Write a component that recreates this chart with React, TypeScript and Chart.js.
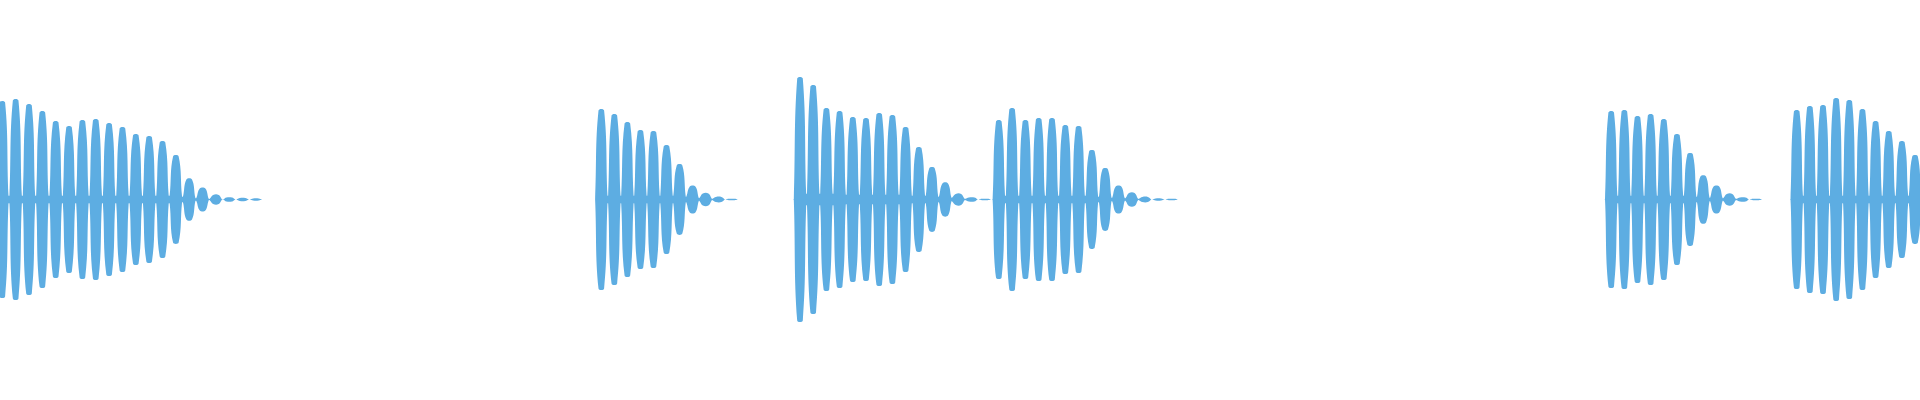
import React, { useEffect, useRef } from 'react';
import { Chart, registerables } from 'chart.js';

Chart.register(...registerables);

// Audio waveform: six bursts of decaying tone pulses.
// Time axis in ms, amplitude in % of full scale.
const burstStarts = [2.3, 601.3, 800, 998.8, 1611.2, 1796.7]; // centre of the first pulse
const burstPeriods = [13.35, 13.04, 13.2, 13.3, 13.15, 13.15]; // pulse spacing

// peak amplitude of every pulse
const burst1Peaks = [48.5, 49.5, 47, 43.5, 38.5, 36, 39, 39.5, 37.5, 35.5, 32, 31, 28.5, 21.5, 10, 5.5, 2.25, 1, 0.75, 0.5];
const burst2Peaks = [44.5, 42, 38, 34, 33.5, 26.5, 17, 6.5, 3, 1.25, 0.35];
const burst3Peaks = [60.5, 56.5, 45, 43.5, 40.5, 40, 42.5, 41.5, 35.5, 25.5, 15.5, 8, 2.75, 1, 0.35];
const burst4Peaks = [39, 45, 39, 40, 40, 36.5, 36, 24, 15, 6.5, 3.25, 1.25, 0.5, 0.35];
const burst5Peaks = [43.5, 44, 41, 42, 39.5, 32, 22.5, 11.5, 6.5, 2.75, 1, 0.35];
const burst6Peaks = [44, 46, 46.5, 50, 49, 44.5, 38.5, 33.5, 28.5, 21.5];

// residual amplitude between consecutive pulses
const burst1Gaps = [2, 2, 2, 2, 2, 2, 2, 2, 2, 2, 2, 2, 2, 1.5, 0.75, 0.35, 0, 0, 0];
const burst2Gaps = [2, 2, 2, 2, 2, 2, 1.5, 0.75, 0.35, 0];
const burst3Gaps = [3, 3, 3, 2.5, 2.5, 2.5, 2.5, 2.5, 2, 2, 1.5, 1, 0.35, 0];
const burst4Gaps = [2, 2, 2, 2, 2, 2, 2, 1.5, 1, 0.75, 0.35, 0, 0];
const burst5Gaps = [2, 2, 2, 2, 2, 2, 1.5, 1, 0.75, 0.35, 0];
const burst6Gaps = [2, 2, 2, 2, 2, 2, 2, 2, 2];

const burstPeaks = [burst1Peaks, burst2Peaks, burst3Peaks, burst4Peaks, burst5Peaks, burst6Peaks];
const burstGaps = [burst1Gaps, burst2Gaps, burst3Gaps, burst4Gaps, burst5Gaps, burst6Gaps];

const WAVE_COLOR = '#5DADE2';
const CREST_HALF = 2.8; // half width of a pulse crest (ms)
const EDGE_HALF = 6.2; // half width of a pulse at its foot (ms)

type Pt = { x: number; y: number };

function envelope(start: number, period: number, peaks: number[], gaps: number[]): Pt[] {
  const pts: Pt[] = [{ x: start - period + EDGE_HALF, y: 0 }];
  peaks.forEach((a, i) => {
    const c = start + i * period;
    pts.push({ x: c - EDGE_HALF, y: i === 0 ? 0 : gaps[i - 1] });
    pts.push({ x: c - CREST_HALF, y: a });
    pts.push({ x: c + CREST_HALF, y: a });
    pts.push({ x: c + EDGE_HALF, y: i < gaps.length ? gaps[i] : 0 });
  });
  pts.push({ x: start + peaks.length * period - EDGE_HALF, y: 0 });
  return pts;
}

const App: React.FC = () => {
  const canvasRef = useRef<HTMLCanvasElement>(null);

  useEffect(() => {
    if (!canvasRef.current) return;

    const datasets: any[] = [];
    burstStarts.forEach((start, b) => {
      const top = envelope(start, burstPeriods[b], burstPeaks[b], burstGaps[b]);
      const common = {
        borderWidth: 0,
        borderColor: 'rgba(0,0,0,0)',
        pointRadius: 0,
        tension: 0.4,
      };
      // upper envelope, then the mirrored lower envelope filled up to it
      datasets.push({ ...common, data: top, fill: false });
      datasets.push({
        ...common,
        data: top.map(p => ({ x: p.x, y: -p.y })),
        fill: '-1',
        backgroundColor: WAVE_COLOR,
      });
    });

    const chart = new Chart(canvasRef.current, {
      type: 'line',
      data: { datasets },
      options: {
        animation: false,
        responsive: true,
        maintainAspectRatio: false,
        events: [],
        layout: { padding: 0 },
        plugins: { legend: { display: false }, tooltip: { enabled: false } },
        scales: {
          x: { type: 'linear', min: 0, max: 1920, display: false },
          y: { min: -100.25, max: 99.75, display: false },
        },
      },
    });

    return () => chart.destroy();
  }, []);

  return (
    <div style={{ position: 'fixed', left: 0, top: 0, width: 1920, height: 400, background: '#fff' }}>
      <canvas ref={canvasRef}></canvas>
    </div>
  );
};

export default App;
